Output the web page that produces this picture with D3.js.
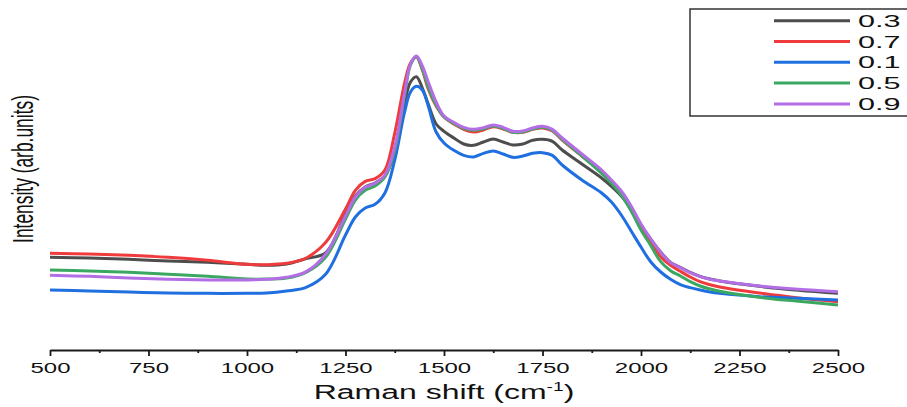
<!DOCTYPE html>
<html>
<head>
<meta charset="utf-8">
<script src="https://cdn.jsdelivr.net/npm/d3@7"></script>
<style>
    body { margin: 0; background: #fff; }
    svg { display: block; font-family: "Liberation Sans", Arial, sans-serif; }
</style>
</head>
<body>
<div id="root"></div>
<script>
// Raman shift (cm-1) sample points
const ramanShift = [500, 600, 700, 800, 900, 1000, 1050, 1100, 1150, 1200, 1250, 1275, 1300, 1325, 1350, 1375,
    1400, 1415, 1430, 1445, 1460, 1480, 1500, 1525, 1550, 1575, 1600, 1625, 1650, 1675, 1700, 1725, 1750, 1775,
    1800, 1850, 1900, 1925, 1950, 1975, 2000, 2025, 2050, 2075, 2100, 2125, 2150, 2175, 2200, 2300, 2400, 2500]

// intensity, arb. units
const int03 = [278, 276, 272, 267, 263, 257, 254, 258, 274, 292, 408, 462, 489, 501, 522, 594, 741, 804, 820, 786,
    738, 678, 656, 636, 618, 614, 624, 633, 624, 615, 618, 629, 632, 626, 600, 558, 516, 491, 462, 423,
    375, 332, 294, 263, 248, 233, 221, 213, 207, 191, 179, 170]
const int07 = [290, 288, 284, 278, 269, 257, 256, 260, 276, 323, 423, 479, 506, 514, 540, 651, 801, 861, 879, 840,
    783, 732, 699, 678, 662, 654, 660, 670, 663, 653, 653, 662, 666, 657, 630, 582, 534, 504, 468, 420,
    366, 322, 280, 254, 236, 219, 205, 196, 189, 171, 156, 145]
const int01 = [180, 177, 174, 171, 170, 170, 171, 177, 188, 228, 345, 399, 426, 437, 471, 570, 714, 774, 791, 780,
    732, 654, 621, 599, 584, 579, 590, 597, 588, 578, 582, 590, 592, 584, 555, 510, 471, 444, 405, 357,
    309, 264, 234, 212, 196, 187, 180, 174, 170, 160, 155, 150]
const int05 = [240, 237, 233, 227, 221, 213, 213, 216, 233, 279, 393, 450, 479, 492, 519, 600, 765, 855, 879, 843,
    789, 735, 699, 680, 665, 659, 664, 672, 665, 653, 654, 663, 668, 659, 632, 582, 530, 500, 465, 417,
    360, 313, 265, 238, 222, 205, 192, 183, 176, 158, 146, 135]
const int09 = [224, 221, 216, 212, 210, 210, 212, 218, 235, 288, 402, 459, 488, 500, 525, 609, 771, 858, 882, 852,
    804, 744, 702, 683, 668, 662, 667, 675, 668, 656, 657, 666, 671, 662, 636, 588, 540, 510, 477, 432,
    378, 333, 293, 262, 247, 232, 220, 212, 207, 192, 182, 175]

const seriesNames = ["0.3", "0.7", "0.1", "0.5", "0.9"]
const seriesColors = ["#4d4d4d", "#ef3b3b", "#1f6fe0", "#3ba862", "#b36ee6"]
const xTicks = [500, 750, 1000, 1250, 1500, 1750, 2000, 2250, 2500]
const xMinorTicks = [625, 875, 1125, 1375, 1625, 1875, 2125, 2375]

const w = 907, h = 407
const stretch = 1.6   // text in the picture is drawn wide

//scales
const x = d3.scaleLinear()
    .domain([500, 2500])
    .range([50, 838])

const y = d3.scaleLinear()
    .domain([0, 1020])
    .range([350, 10])

const svg = d3.select("#root").append("svg")
    .attr("width", w)
    .attr("height", h)

svg.append("rect")
    .attr("width", w)
    .attr("height", h)
    .attr("fill", "white")

const series = seriesNames.map((name, i) => ({
    name: name,
    color: seriesColors[i],
    values: [int03, int07, int01, int05, int09][i]
}))

const line = d3.line()
    .x((d, i) => x(ramanShift[i]))
    .y(d => y(d))
    .curve(d3.curveCatmullRom.alpha(0.5))

svg.selectAll("path.spectrum")
    .data(series)
    .enter()
    .append("path")
    .attr("class", "spectrum")
    .attr("fill", "none")
    .attr("stroke", d => d.color)
    .attr("stroke-width", 3)
    .attr("stroke-linejoin", "round")
    .attr("d", d => line(d.values))

// x axis
const axis = svg.append("g")
    .attr("transform", "translate(0,350)")
    .call(d3.axisBottom(x).tickValues(xTicks).tickSize(6).tickSizeOuter(0).tickPadding(6).tickFormat(d3.format("d")))

svg.append("g")
    .attr("transform", "translate(0,350)")
    .call(d3.axisBottom(x).tickValues(xMinorTicks).tickSize(3).tickSizeOuter(0).tickFormat(""))
    .call(g => g.select(".domain").remove())

svg.selectAll(".tick line").attr("stroke", "#1a1a1a").attr("stroke-width", 1.8)
axis.select(".domain").attr("stroke", "#1a1a1a").attr("stroke-width", 1.8)
axis.selectAll(".tick text")
    .attr("font-size", 15)
    .attr("font-family", "Liberation Sans, Arial, sans-serif")
    .attr("fill", "#111")
    .attr("transform", `scale(${stretch},1)`)

// axis titles
const xTitle = svg.append("text")
    .attr("transform", `translate(444,399) scale(${stretch},1)`)
    .attr("text-anchor", "middle")
    .attr("font-size", 20)
    .attr("fill", "#111")
xTitle.append("tspan").text("Raman shift (cm")
xTitle.append("tspan").attr("font-size", 12).attr("dy", -8).text("-1")
xTitle.append("tspan").attr("dy", 8).text(")")

svg.append("text")
    .attr("transform", "translate(33,169) rotate(-90) scale(0.6,1)")
    .attr("text-anchor", "middle")
    .attr("font-size", 29)
    .attr("fill", "#111")
    .text("Intensity (arb.units)")

// legend
svg.append("rect")
    .attr("x", 690)
    .attr("y", 9)
    .attr("width", 240)
    .attr("height", 107)
    .attr("fill", "white")
    .attr("stroke", "#333")
    .attr("stroke-width", 1.5)

const legendRow = d3.scaleBand()
    .domain(seriesNames)
    .range([10.3, 114.3])

const legend = svg.selectAll("g.legend")
    .data(series)
    .enter()
    .append("g")
    .attr("class", "legend")
    .attr("transform", d => `translate(0,${legendRow(d.name) + legendRow.bandwidth() / 2})`)

legend.append("line")
    .attr("x1", 774)
    .attr("x2", 850)
    .attr("stroke", d => d.color)
    .attr("stroke-width", 3)

legend.append("text")
    .attr("transform", "translate(858,6) scale(1.8,1)")
    .attr("font-size", 17)
    .attr("fill", "#111")
    .text(d => d.name)
</script>
</body>
</html>
